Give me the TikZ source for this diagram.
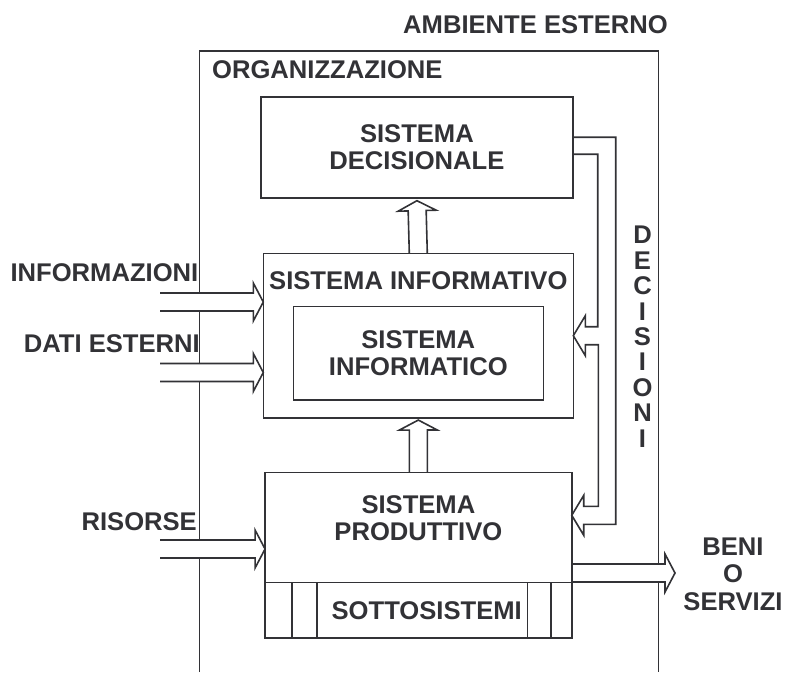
\documentclass[tikz,border=0pt]{standalone}
\usepackage{fontspec}
\setmainfont{Liberation Sans}
\usetikzlibrary{positioning,calc}
\pgfdeclarelayer{background}
\pgfdeclarelayer{foreground}
\pgfsetlayers{background,main,foreground}
\definecolor{ink}{RGB}{50,50,54}

\begin{document}
\begin{tikzpicture}[x=1pt, y=-1pt,
					boxnode/.style={draw=ink, line width=1.6pt, inner sep=0pt, outer sep=0pt, text=ink, align=center, font=\fontsize{25.6}{27.5}\selectfont\bfseries},
					labnode/.style={text=ink, inner sep=0pt, align=center, font=\fontsize{25.6}{27.5}\selectfont\bfseries},
					thinline/.style={draw=ink, line width=1.6pt},
					fatarrow/.style={draw=ink, fill=white, line width=1.6pt,
						to path={($(\tikztostart)!9pt!90:(\tikztotarget)$)
							-- ($(\tikztotarget)!10pt!(\tikztostart)!9pt!-90:(\tikztostart)$)
							-- ($(\tikztotarget)!10pt!(\tikztostart)!19pt!-90:(\tikztostart)$)
							-- (\tikztotarget)
							-- ($(\tikztotarget)!10pt!(\tikztostart)!19pt!90:(\tikztostart)$)
							-- ($(\tikztotarget)!10pt!(\tikztostart)!9pt!90:(\tikztostart)$)
							-- ($(\tikztostart)!9pt!-90:(\tikztotarget)$)}},
					]
					\useasboundingbox (0,0) rectangle (786,672);
					\begin{pgfonlayer}{foreground}
					%Boxes
					\node[boxnode, minimum width=311.7pt, minimum height=101pt]   (dec)  at (416.9,147.2) {SISTEMA\\DECISIONALE};
					\node[boxnode, minimum width=310pt, minimum height=164.7pt]   (inf)  at (418.3,335.7) {};
					\node[boxnode, minimum width=250pt, minimum height=93.5pt]    (infc) at (418.3,353.2) {SISTEMA\\INFORMATICO};
					\node[boxnode, minimum width=306.7pt, minimum height=110pt]   (prod) at (418.4,527.3) {};
					\node[boxnode, minimum width=306.7pt, minimum height=55.4pt]  (sub)  at (418.4,610)   {};
					\foreach \d in {26.7,51.7,262.3,285.7}
						\draw[thinline] ($(sub.north west)+(\d,0)$) -- ($(sub.south west)+(\d,0)$);
					\end{pgfonlayer}

					%Labels
					\node[labnode]              (amb)     at (535.5,25)    {AMBIENTE ESTERNO};
					\node[labnode]              (org)     at (327.3,70)    {ORGANIZZAZIONE};
					\node[labnode]              (inflab)  at (418.3,280.5) {SISTEMA INFORMATIVO};
					\node[labnode]              (prodlab) at (418.4,518)   {SISTEMA\\PRODUTTIVO};
					\node[labnode]              (sublab)  at (426.7,610.5) {SOTTOSISTEMI};
					\node[labnode, anchor=east] (infoin)  at (198.5,272.5) {INFORMAZIONI};
					\node[labnode, anchor=east] (datin)   at (200,344)     {DATI ESTERNI};
					\node[labnode, anchor=east] (risin)   at (197,522)     {RISORSE};
					\node[labnode]              (beni)    at (733,574)     {BENI\\O\\SERVIZI};
					\node[labnode, font=\fontsize{25.6}{25.4}\selectfont\bfseries] (decis) at (642.5,336.7) {D\\E\\C\\I\\S\\I\\O\\N\\I};

					%Arrow ends
					\coordinate (in1s) at (160,302);
					\coordinate (in2s) at (160,372.5);
					\coordinate (in3s) at (160,549);
					\coordinate (in1t) at (in1s -| inf.west);
					\coordinate (in2t) at (in2s -| inf.west);
					\coordinate (in3t) at (in3s -| prod.west);
					\coordinate (outt) at (675,573);
					\coordinate (outs) at (outt -| prod.east);
					\coordinate (dectip) at ($(dec.south)+(0,3)$);
					\coordinate (inftip) at ($(inf.south)+(0,2)$);
					\coordinate (fbA) at (inf.east);
					\coordinate (fbB) at ($(prod.east)+(0,-12)$);

					\begin{pgfonlayer}{background}
					%Organizzazione
					\draw[thinline] (199.5,672) |- (658.3,50.7) -- (658.3,672);
					\end{pgfonlayer}

					%Arrows
					\draw[fatarrow] (in1s) to (in1t);
					\draw[fatarrow] (in2s) to (in2t);
					\draw[fatarrow] (in3s) to (in3t);
					\draw[fatarrow] (inf.north) to (dectip);
					\draw[fatarrow] (prod.north) to (inftip);
					\draw[fatarrow] (outs) to (outt);
					\draw[thinline] ($(dec.east)+(0,7)$) -- ++(25,0) |- ($(fbA)+(12,-9)$) -- ++(0,-11) -- (fbA) -- ++(12,20) -- ++(0,-11)
						-- ++(13,0) |- ($(fbB)+(12,-9)$) -- ++(0,-11) -- (fbB) -- ++(12,20) -- ++(0,-11) -- ++(32,0) |- ($(dec.east)+(0,-10)$);
				\end{tikzpicture}
\end{document}
